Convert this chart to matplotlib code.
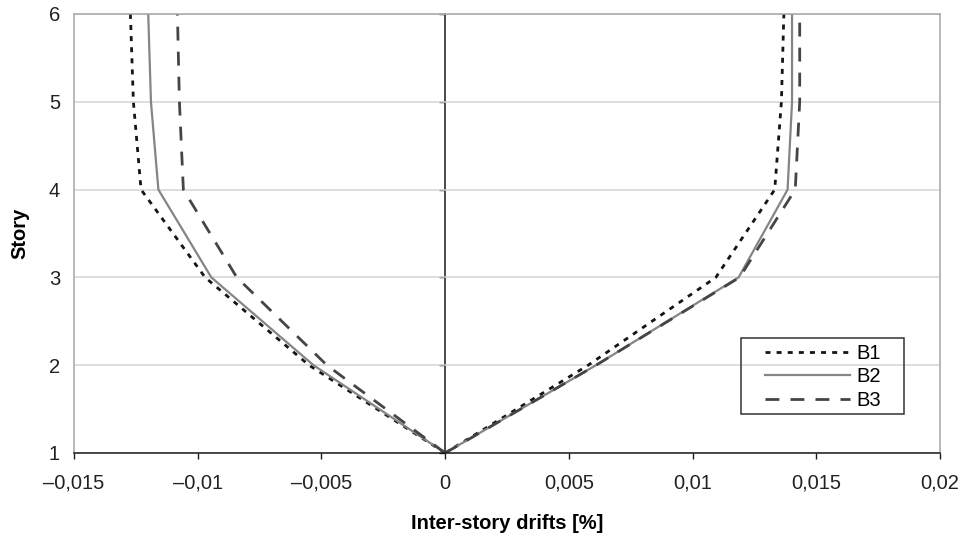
import matplotlib
matplotlib.use("Agg")
import matplotlib.pyplot as plt
from matplotlib.patches import Rectangle

plt.rcParams['font.family'] = ['Liberation Sans', 'DejaVu Sans']

# story levels (ground = 1)
stories = [1, 2, 3, 4, 5, 6]

# inter-story drifts, negative direction
b1_neg = [0.0, -0.0055, -0.0097, -0.01229, -0.0126, -0.01272]
b2_neg = [0.0, -0.00532, -0.00945, -0.01159, -0.01189, -0.0120]
b3_neg = [0.0, -0.00478, -0.00842, -0.01058, -0.01074, -0.01082]

# inter-story drifts, positive direction
b1_pos = [0.0, 0.00578, 0.01094, 0.01332, 0.01359, 0.01369]
b2_pos = [0.0, 0.00610, 0.01186, 0.01384, 0.01402, 0.01402]
b3_pos = [0.0, 0.00610, 0.01190, 0.01415, 0.01433, 0.01433]

xticks = [-0.015, -0.01, -0.005, 0, 0.005, 0.01, 0.015, 0.02]
xtick_labels = ["\u20130,015", "\u20130,01", "\u20130,005", "0", "0,005", "0,01", "0,015", "0,02"]
yticks = [1, 2, 3, 4, 5, 6]

series = [
    ("B1", b1_neg, b1_pos, dict(color="#151515", lw=2.0, dashes=(1.8, 2.2))),
    ("B2", b2_neg, b2_pos, dict(color="#858585", lw=1.6)),
    ("B3", b3_neg, b3_pos, dict(color="#454545", lw=2.0, dashes=(5.0, 4.0))),
]

fig = plt.figure(figsize=(9.65, 5.34), dpi=100)
ax = fig.add_axes([74/965, 1-453/534, 866/965, 439/534])

for name, neg, pos, style in series:
    ax.plot(neg, stories, label=name, **style)
    ax.plot(pos, stories, **style)

ax.set_xlim(-0.015, 0.02)
ax.set_ylim(1, 6)
ax.set_xticks(xticks)
ax.set_xticklabels(xtick_labels)
ax.set_yticks(yticks)

ax.grid(axis="y", color="#d4d4d4", lw=1.1)
ax.set_axisbelow(True)
for s in ["left", "top", "right"]:
    ax.spines[s].set_color("#a6a6a6")
    ax.spines[s].set_linewidth(1.1)
ax.spines["bottom"].set_color("#1a1a1a")
ax.spines["bottom"].set_linewidth(1.1)

ax.tick_params(axis="x", direction="out", length=4, width=1, color="#1a1a1a",
               pad=11, labelsize=14.5, labelcolor="#222222")
ax.tick_params(axis="y", length=0, pad=10, labelsize=14.5, labelcolor="#222222")

# vertical axis crossing at x = 0
zero_pos = (0 - (-0.015)) / (0.02 - (-0.015))
sec = ax.secondary_yaxis(zero_pos)
sec.spines["left"].set_color("#1a1a1a")
sec.spines["left"].set_linewidth(1.1)
sec.set_yticks(yticks)
sec.tick_params(direction="out", length=4, width=1, color="#1a1a1a", labelleft=False)

ax.set_xlabel("Inter-story drifts [%]", fontsize=14.5, fontweight="bold", labelpad=15)
ax.set_ylabel("Story", fontsize=14.5, fontweight="bold", labelpad=14)

leg = ax.legend(loc="upper left", bbox_to_anchor=(765/965, 1-344/534),
                bbox_transform=fig.transFigure, frameon=False, borderpad=0,
                borderaxespad=0, handlelength=4.2, handletextpad=0.35,
                labelspacing=0.22, fontsize=14.5)
fig.add_artist(Rectangle((741/965, 1-414/534), 163/965, 76/534,
                         transform=fig.transFigure, fill=False,
                         edgecolor="#333333", lw=1.1))

fig.savefig("out.png", dpi=100)
